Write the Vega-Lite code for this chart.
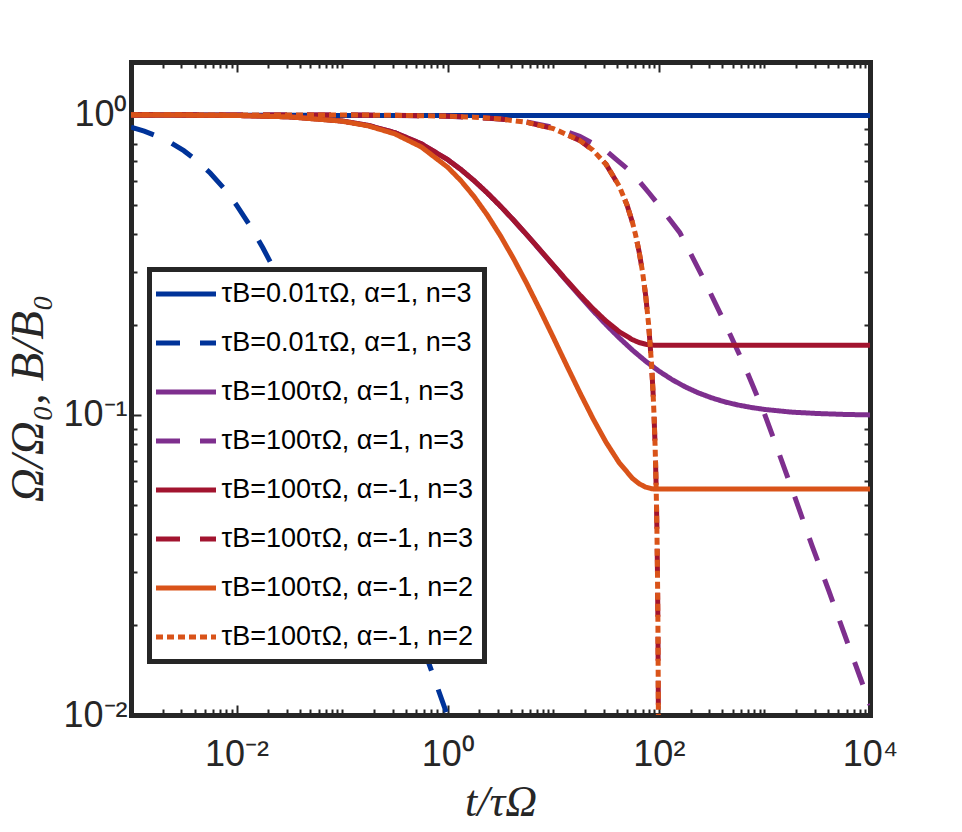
{
  "$schema": "https://vega.github.io/schema/vega-lite/v6.json",
  "width": 739,
  "height": 653,
  "autosize": {"type": "none"},
  "padding": {"left": 131, "top": 62, "right": 92, "bottom": 117},
  "background": "white",
  "data": {
    "values": [
      {"curve": "Ω, τB=0.01τΩ, α=1, n=3",
       "t": [0.001, 0.003162, 0.01, 0.03162, 0.1, 1, 10000],
       "v": [0.9995, 0.9988, 0.9975, 0.9962, 0.9955, 0.9951, 0.995]},
      {"curve": "B, τB=0.01τΩ, α=1, n=3",
       "t": [0.001, 0.001334, 0.001778, 0.002371, 0.003162, 0.004217, 0.005623, 0.0075, 0.01, 0.01334, 0.01778, 0.02371, 0.03162, 0.04217, 0.05623, 0.075, 0.1, 0.1334, 0.1778, 0.2371, 0.3162, 0.4217, 0.5623, 0.75, 1, 1.2],
       "v": [0.9091, 0.8823, 0.849, 0.8083, 0.7598, 0.7034, 0.6401, 0.5714, 0.5, 0.4285, 0.36, 0.2966, 0.2403, 0.1917, 0.151, 0.1176, 0.09091, 0.06974, 0.05325, 0.04047, 0.03066, 0.02316, 0.01747, 0.01316, 0.009901, 0.008264]},
      {"curve": "Ω, τB=100τΩ, α=1, n=3",
       "t": [0.001, 0.003162, 0.01, 0.01778, 0.03162, 0.05623, 0.1, 0.1778, 0.3162, 0.5623, 1, 1.334, 1.778, 2.371, 3.162, 4.217, 5.623, 7.499, 10, 13.34, 17.78, 23.71, 31.62, 42.17, 56.23, 74.99, 100, 133.4, 177.8, 237.1, 316.2, 421.7, 562.3, 749.9, 1000, 1778, 3162, 5623, 10000],
       "v": [0.9995, 0.9984, 0.995, 0.9912, 0.9846, 0.973, 0.9535, 0.9216, 0.872, 0.8009, 0.7089, 0.6572, 0.6033, 0.5491, 0.496, 0.4452, 0.3977, 0.3541, 0.3148, 0.2798, 0.2493, 0.2227, 0.1999, 0.1806, 0.1644, 0.151, 0.14, 0.1311, 0.124, 0.1184, 0.114, 0.1105, 0.1079, 0.1059, 0.1043, 0.1022, 0.1011, 0.1004, 0.1]},
      {"curve": "B, τB=100τΩ, α=1, n=3",
       "t": [0.001, 0.1, 1, 3.162, 5.623, 10, 17.78, 31.62, 38.4, 56.23, 80.4, 100, 158, 260, 412, 636, 986, 1338, 1939, 2806, 4075, 5884, 8560, 10000],
       "v": [1, 0.999, 0.9901, 0.9693, 0.9468, 0.9091, 0.849, 0.7598, 0.716, 0.64, 0.55, 0.5, 0.405, 0.288, 0.206, 0.148, 0.1023, 0.0764, 0.0533, 0.0369, 0.0259, 0.0181, 0.0126, 0.0108]},
      {"curve": "Ω, τB=100τΩ, α=-1, n=3",
       "t": [0.001, 0.003162, 0.01, 0.03162, 0.1, 0.1778, 0.3162, 0.5623, 1, 1.334, 1.778, 2.371, 3.162, 4.217, 5.623, 7.499, 10, 13.34, 17.78, 23.71, 31.62, 42.17, 56.23, 65, 74.99, 85, 90, 100, 10000],
       "v": [0.9995, 0.9984, 0.995, 0.9846, 0.9535, 0.9216, 0.872, 0.801, 0.7089, 0.6571, 0.6034, 0.5492, 0.4961, 0.4454, 0.398, 0.3546, 0.3157, 0.2813, 0.2515, 0.2263, 0.2055, 0.1894, 0.1781, 0.1743, 0.172, 0.1709, 0.1708, 0.1707, 0.1707]},
      {"curve": "B, τB=100τΩ, α=-1, n=3",
       "t": [0.001, 0.1, 0.3162, 1, 1.778, 3.162, 5.623, 10, 17.78, 23.71, 31.62, 42.17, 50, 56.23, 60, 65, 70, 74.99, 80, 85, 88, 90, 92, 93, 94, 95, 96, 97, 98, 99, 99.5],
       "v": [1, 0.999, 0.9968, 0.99, 0.9822, 0.9684, 0.9438, 0.9, 0.8222, 0.7629, 0.6838, 0.5783, 0.5, 0.4377, 0.4, 0.35, 0.3, 0.2501, 0.2, 0.15, 0.12, 0.1, 0.08, 0.07, 0.06, 0.05, 0.04, 0.03, 0.02, 0.01, 0.005]},
      {"curve": "Ω, τB=100τΩ, α=-1, n=2",
       "t": [0.001, 0.003162, 0.01, 0.03162, 0.1, 0.1778, 0.3162, 0.5623, 1, 1.334, 1.778, 2.371, 3.162, 4.217, 5.623, 7.499, 10, 13.34, 17.78, 23.71, 31.62, 42.17, 56.23, 65, 74.99, 85, 90, 100, 10000],
       "v": [0.9995, 0.9984, 0.995, 0.9844, 0.9524, 0.9185, 0.8639, 0.7815, 0.6689, 0.6032, 0.5338, 0.4635, 0.395, 0.331, 0.2735, 0.2234, 0.1813, 0.1466, 0.119, 0.0974, 0.08105, 0.06924, 0.06147, 0.05899, 0.05745, 0.05678, 0.05666, 0.0566, 0.0566]},
      {"curve": "B, τB=100τΩ, α=-1, n=2",
       "t": [0.001, 0.1, 0.3162, 1, 1.778, 3.162, 5.623, 10, 17.78, 23.71, 31.62, 42.17, 50, 56.23, 60, 65, 70, 74.99, 80, 85, 88, 90, 92, 93, 94, 95, 96, 97, 98, 99, 99.5],
       "v": [1, 0.999, 0.9968, 0.99, 0.9822, 0.9684, 0.9438, 0.9, 0.8222, 0.7629, 0.6838, 0.5783, 0.5, 0.4377, 0.4, 0.35, 0.3, 0.2501, 0.2, 0.15, 0.12, 0.1, 0.08, 0.07, 0.06, 0.05, 0.04, 0.03, 0.02, 0.01, 0.005]}
    ]
  },
  "transform": [{"flatten": ["t", "v"]}],
  "layer": [
    {
      "mark": {"type": "line", "strokeWidth": 5, "clip": true},
      "encoding": {
        "x": {
          "field": "t", "type": "quantitative",
          "scale": {"type": "log", "domain": [0.001, 10000], "nice": false},
          "axis": {
            "orient": "bottom",
            "title": "t/τΩ",
            "values": [0.001,0.002,0.003,0.004,0.005,0.006,0.007,0.008,0.009,0.01,0.02,0.03,0.04,0.05,0.06,0.07,0.08,0.09,0.1,0.2,0.3,0.4,0.5,0.6,0.7,0.8,0.9,1,2,3,4,5,6,7,8,9,10,20,30,40,50,60,70,80,90,100,200,300,400,500,600,700,800,900,1000,2000,3000,4000,5000,6000,7000,8000,9000,10000],
            "labelExpr": "datum.value == 0.01 ? '10⁻²' : datum.value == 1 ? '10⁰' : datum.value == 100 ? '10²' : datum.value == 10000 ? '10⁴' : ''",
            "tickSize": {"condition": {"test": "datum.value == 0.01 || datum.value == 1 || datum.value == 100 || datum.value == 10000", "value": -10}, "value": -6},
            "labelPadding": 32,
            "titlePadding": 4
          }
        },
        "y": {
          "field": "v", "type": "quantitative",
          "scale": {"type": "log", "domain": [0.01, 1.5], "nice": false},
          "axis": {
            "orient": "left",
            "title": "Ω/Ω₀, B/B₀",
            "titleFontSize": 47,
            "titleY": 336,
            "values": [0.01,0.02,0.03,0.04,0.05,0.06,0.07,0.08,0.09,0.1,0.2,0.3,0.4,0.5,0.6,0.7,0.8,0.9,1],
            "labelExpr": "datum.value == 0.01 ? '10⁻²' : datum.value == 0.1 ? '10⁻¹' : datum.value == 1 ? '10⁰' : ''",
            "tickSize": {"condition": {"test": "datum.value == 0.01 || datum.value == 0.1 || datum.value == 1", "value": -10}, "value": -6},
            "labelPadding": 14,
            "titlePadding": 10
          }
        },
        "color": {
          "field": "curve", "type": "nominal",
          "scale": {
            "domain": ["Ω, τB=0.01τΩ, α=1, n=3", "B, τB=0.01τΩ, α=1, n=3", "Ω, τB=100τΩ, α=1, n=3", "B, τB=100τΩ, α=1, n=3", "Ω, τB=100τΩ, α=-1, n=3", "B, τB=100τΩ, α=-1, n=3", "Ω, τB=100τΩ, α=-1, n=2", "B, τB=100τΩ, α=-1, n=2"],
            "range": ["#003399", "#003399", "#7E2F8E", "#7E2F8E", "#A2142F", "#A2142F", "#D95319", "#D95319"]
          },
          "legend": {
            "title": null,
            "labelExpr": "slice(datum.value, 3)",
            "encode": {"legend": {"update": {"strokeWidth": {"value": 5}}}}
          }
        },
        "strokeDash": {
          "field": "curve", "type": "nominal",
          "scale": {
            "domain": ["Ω, τB=0.01τΩ, α=1, n=3", "B, τB=0.01τΩ, α=1, n=3", "Ω, τB=100τΩ, α=1, n=3", "B, τB=100τΩ, α=1, n=3", "Ω, τB=100τΩ, α=-1, n=3", "B, τB=100τΩ, α=-1, n=3", "Ω, τB=100τΩ, α=-1, n=2", "B, τB=100τΩ, α=-1, n=2"],
            "range": [[1, 0], [24, 20], [1, 0], [24, 20], [1, 0], [24, 20], [1, 0], [7, 4]]
          },
          "legend": {
            "title": null,
            "labelExpr": "slice(datum.value, 3)",
            "encode": {"legend": {"update": {"strokeWidth": {"value": 5}}}}
          }
        }
      }
    },
    {
      "mark": {"type": "point", "opacity": 0},
      "encoding": {
        "x": {
          "field": "t", "type": "quantitative",
          "axis": {
            "orient": "top", "title": null, "labels": false,
            "values": [0.001,0.002,0.003,0.004,0.005,0.006,0.007,0.008,0.009,0.01,0.02,0.03,0.04,0.05,0.06,0.07,0.08,0.09,0.1,0.2,0.3,0.4,0.5,0.6,0.7,0.8,0.9,1,2,3,4,5,6,7,8,9,10,20,30,40,50,60,70,80,90,100,200,300,400,500,600,700,800,900,1000,2000,3000,4000,5000,6000,7000,8000,9000,10000],
            "tickSize": {"condition": {"test": "datum.value == 0.01 || datum.value == 1 || datum.value == 100 || datum.value == 10000", "value": -10}, "value": -6}
          }
        },
        "y": {
          "field": "v", "type": "quantitative",
          "axis": {
            "orient": "right", "title": null, "labels": false,
            "values": [0.01,0.02,0.03,0.04,0.05,0.06,0.07,0.08,0.09,0.1,0.2,0.3,0.4,0.5,0.6,0.7,0.8,0.9,1],
            "tickSize": {"condition": {"test": "datum.value == 0.01 || datum.value == 0.1 || datum.value == 1", "value": -10}, "value": -6}
          }
        }
      }
    }
  ],
  "resolve": {"axis": {"x": "independent", "y": "independent"}},
  "config": {
    "view": {"stroke": null},
    "axis": {
      "grid": false,
      "domain": true,
      "domainColor": "#262626",
      "domainWidth": 5,
      "domainCap": "square",
      "tickColor": "#262626",
      "tickWidth": 2,
      "labelFont": "Liberation Sans",
      "labelFontSize": 36,
      "labelColor": "#262626",
      "labelOverlap": false,
      "labelFlush": false,
      "titleFont": "Liberation Serif",
      "titleFontStyle": "italic",
      "titleFontWeight": "normal",
      "titleFontSize": 44,
      "titleColor": "#262626",
      "zindex": 1
    },
    "legend": {
      "orient": "none",
      "legendX": 18.5,
      "legendY": 207.5,
      "strokeColor": "#262626",
      "fillColor": "white",
      "padding": 11,
      "symbolType": "M-3,0H3",
      "symbolSize": 400,
      "symbolStrokeWidth": 5,
      "symbolOffset": 12,
      "labelOffset": 22,
      "labelFont": "Liberation Sans",
      "labelFontSize": 27,
      "labelColor": "black",
      "labelLimit": 400,
      "rowPadding": 21,
      "zindex": 2
    }
  }
}
